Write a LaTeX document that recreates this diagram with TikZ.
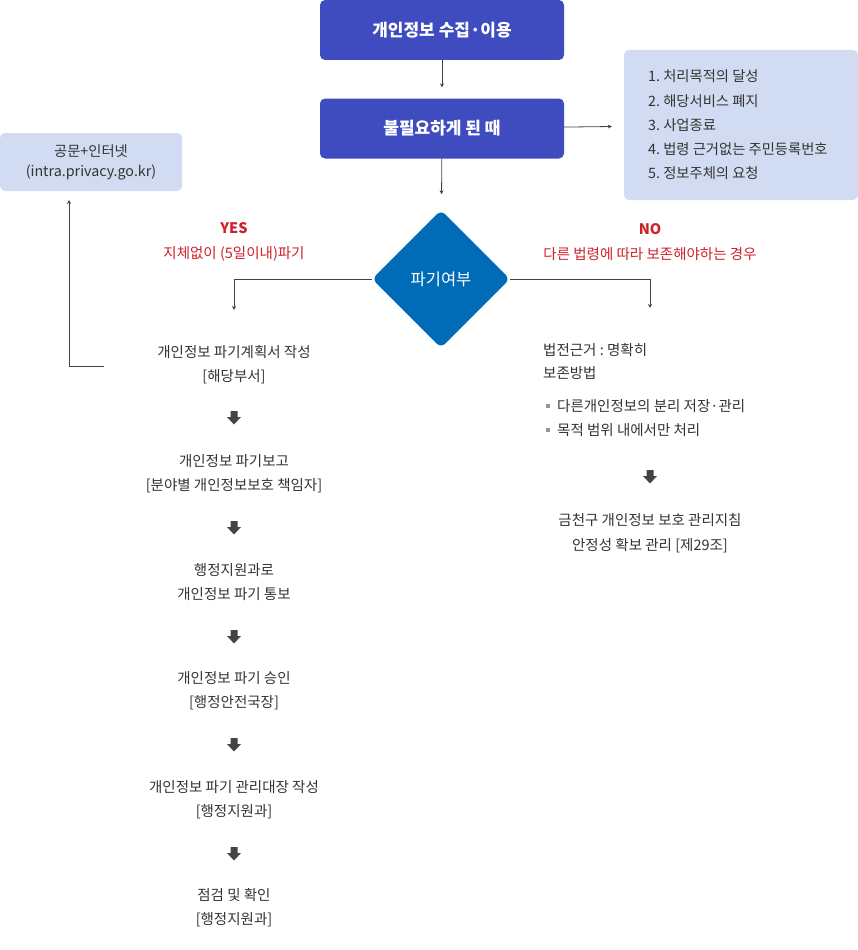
\documentclass[tikz,border=0pt]{standalone}
\usepackage{fontspec}
\setmainfont{Noto Sans CJK KR}
\usepackage{tikz}
\usepackage{xcolor}
\usetikzlibrary{shapes.geometric,arrows.meta}
\definecolor{boxblue}{RGB}{62,76,192}
\definecolor{diablue}{RGB}{0,108,184}
\definecolor{paleblue}{RGB}{209,220,242}
\definecolor{noteRed}{RGB}{206,32,40}
\definecolor{textgray}{RGB}{51,51,51}
\definecolor{linegray}{RGB}{68,68,68}
\definecolor{bulletgray}{RGB}{150,150,150}
\tikzset{
    main-box/.style = {fill=boxblue, text=white, rectangle, rounded corners=5pt, minimum width=244pt, minimum height=60pt, font=\fontsize{17}{20}\selectfont\bfseries},
    pale-box/.style = {fill=paleblue, text=textgray, rectangle, rounded corners=5pt, font=\fontsize{14.3}{24.3}\selectfont},
    decision/.style = {fill=diablue, text=white, diamond, aspect=1, rounded corners=6pt, minimum width=138pt, minimum height=138pt, inner sep=0pt, font=\fontsize{16.5}{18}\selectfont},
    step-text/.style = {text=textgray, align=center, inner sep=0pt, font=\fontsize{14.5}{24.5}\selectfont},
    red-label/.style = {text=noteRed, align=center, inner sep=0pt, font=\fontsize{14.5}{25}\selectfont},
    thin-arrow/.style = {draw=linegray, line width=0.8pt, -{Stealth[length=4pt,width=4pt]}},
    down-block/.pic = {\fill[linegray] (-3.5,-7) -- (3.5,-7) -- (3.5,-1) -- (7,-1) -- (0,6.5) -- (-7,-1) -- (-3.5,-1) -- cycle;},
}
\newcommand{\bulletsq}{\textcolor{bulletgray}{\rule[3.5pt]{4pt}{4pt}}\hspace{7pt}}
\frenchspacing

\begin{document}
\begin{tikzpicture}[x=1pt,y=-1pt]
\useasboundingbox (0,0) rectangle (858,950);
\node [main-box] (collect) at (442,30) {개인정보 수집·이용};
\node [main-box] (unneeded) at (442,128.5) {불필요하게 된 때};
\node [pale-box, minimum width=234pt, minimum height=150pt] (reasons) at (741,125) {};
\node [pale-box, fill=none, align=left, anchor=west, inner sep=0pt] (reasons-list) at (648,125) {1. 처리목적의 달성\\2. 해당서비스 폐지\\3. 사업종료\\4. 법령 근거없는 주민등록번호\\5. 정보주체의 요청};
\node [pale-box, minimum width=182pt, minimum height=58pt, align=center, font=\fontsize{14.3}{20}\selectfont] (web) at (91,162) {공문+인터넷\\(intra.privacy.go.kr)};
\node [decision] (destroy) at (441,279) {파기여부};

% YES branch
\node [red-label] (yes) at (234,241.5) {\textbf{YES}\\지체없이 (5일이내)파기};
\coordinate (yes-end) at (234,310);
\node [step-text] (plan) at (234,364.5) {개인정보 파기계획서 작성\\{}[해당부서]};
\pic at (234,418) {down-block};
\node [step-text] (report) at (234,473.5) {개인정보 파기보고\\{}[분야별 개인정보보호 책임자]};
\pic at (234,528) {down-block};
\node [step-text] (notice) at (234,582) {행정지원과로\\개인정보 파기 통보};
\pic at (234,637) {down-block};
\node [step-text] (approve) at (234,690.5) {개인정보 파기 승인\\{}[행정안전국장]};
\pic at (234,745) {down-block};
\node [step-text] (ledger) at (234,799.5) {개인정보 파기 관리대장 작성\\{}[행정지원과]};
\pic at (234,854) {down-block};
\node [step-text] (check) at (234,907.5) {점검 및 확인\\{}[행정지원과]};
\coordinate (back-start) at (104,366);
\coordinate (back-end) at (69,200);

% NO branch
\node [red-label] (no) at (650,242) {\textbf{NO}\\다른 법령에 따라 보존해야하는 경우};
\coordinate (no-end) at (650,308);
\node [step-text, align=left, anchor=west, font=\fontsize{14.5}{23}\selectfont] (basis) at (543,361.5) {법전근거 : 명확히\\보존방법};
\node [step-text, align=left, anchor=west, font=\fontsize{14.5}{24}\selectfont] (methods) at (546,418) {\bulletsq 다른개인정보의 분리 저장·관리\\\bulletsq 목적 범위 내에서만 처리};
\pic at (650,477) {down-block};
\node [step-text] (guide) at (650,533) {금천구 개인정보 보호 관리지침\\안정성 확보 관리 [제29조]};

\draw [thin-arrow, shorten >=11pt] (collect) -- (unneeded);
\draw [thin-arrow, shorten >=16pt] (unneeded) -- (destroy);
\draw [thin-arrow, shorten >=12pt] (unneeded) -- (reasons);
\draw [thin-arrow] (destroy.west) -| (yes-end);
\draw [thin-arrow] (destroy.east) -| (no-end);
\draw [thin-arrow] (back-start) -| (back-end);
\end{tikzpicture}
\end{document}
